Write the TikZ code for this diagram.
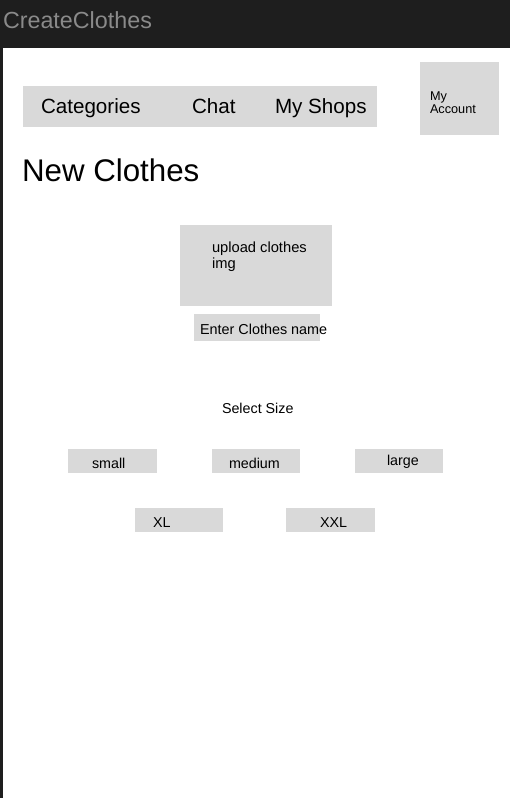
\documentclass[tikz,border=0pt]{standalone}
\usepackage{fontspec}
\setmainfont{Liberation Sans}
\definecolor{barbg}{HTML}{1E1E1E}
\definecolor{boxgray}{HTML}{D9D9D9}
\definecolor{titlegray}{HTML}{8A8A8A}
\tikzset{
  graybox/.style={fill=boxgray, draw=none, inner sep=0pt, outer sep=0pt},
  lbl/.style={anchor=base west, inner sep=0pt, outer sep=0pt, text=black},
}
\newcommand{\fs}[1]{\fontsize{#1}{#1}\selectfont}
\begin{document}
\begin{tikzpicture}[x=1pt,y=-1pt]
\useasboundingbox (0,0) rectangle (510,798);
% frame
\fill[barbg] (0,0) rectangle (510,48);
\fill[barbg] (0,0) rectangle (3,798);
\fill[white] (3,48) rectangle (510,798);
\node[lbl, text=titlegray] (title) at (3,28) {\fs{23.3}CreateClothes};
% nav bar
\node[graybox, minimum width=354pt, minimum height=41pt] (nav) at (200,106.5) {};
\node[lbl] (cat) at (41,113) {\fs{20.6}Categories};
\node[lbl] (chat) at (192,113) {\fs{20.6}Chat};
\node[lbl] (shops) at (275,113) {\fs{20.6}My Shops};
% account
\node[graybox, minimum width=79pt, minimum height=73pt] (acct) at (459.5,98.5) {};
\node[lbl] (acct1) at (430,100) {\fs{12.7}My};
\node[lbl] (acct2) at (430,113) {\fs{12.7}Account};
% heading
\node[lbl] (head) at (22,181) {\fs{31.3}New Clothes};
% upload
\node[graybox, minimum width=152pt, minimum height=81pt] (upload) at (256,265.5) {};
\node[lbl] (up1) at (212,252) {\fs{14.7}upload clothes};
\node[lbl] (up2) at (212,268) {\fs{14.7}img};
% name
\node[graybox, minimum width=126pt, minimum height=27pt] (name) at (257,327.5) {};
\node[lbl] (namet) at (200,334) {\fs{14.4}Enter Clothes name};
% select size
\node[lbl] (sel) at (222,413) {\fs{14.3}Select Size};
\node[graybox, minimum width=89pt, minimum height=24pt] (small) at (112.5,461) {};
\node[lbl] (smallt) at (92,468) {\fs{14.3}small};
\node[graybox, minimum width=88pt, minimum height=24pt] (medium) at (256,461) {};
\node[lbl] (mediumt) at (229,468) {\fs{14.3}medium};
\node[graybox, minimum width=88pt, minimum height=24pt] (large) at (399,461) {};
\node[lbl] (larget) at (387,465) {\fs{14.3}large};
\node[graybox, minimum width=88pt, minimum height=24pt] (xl) at (179,520) {};
\node[lbl] (xlt) at (153,527) {\fs{14.3}XL};
\node[graybox, minimum width=89pt, minimum height=24pt] (xxl) at (330.5,520) {};
\node[lbl] (xxlt) at (320,527) {\fs{14.3}XXL};
\end{tikzpicture}
\end{document}
